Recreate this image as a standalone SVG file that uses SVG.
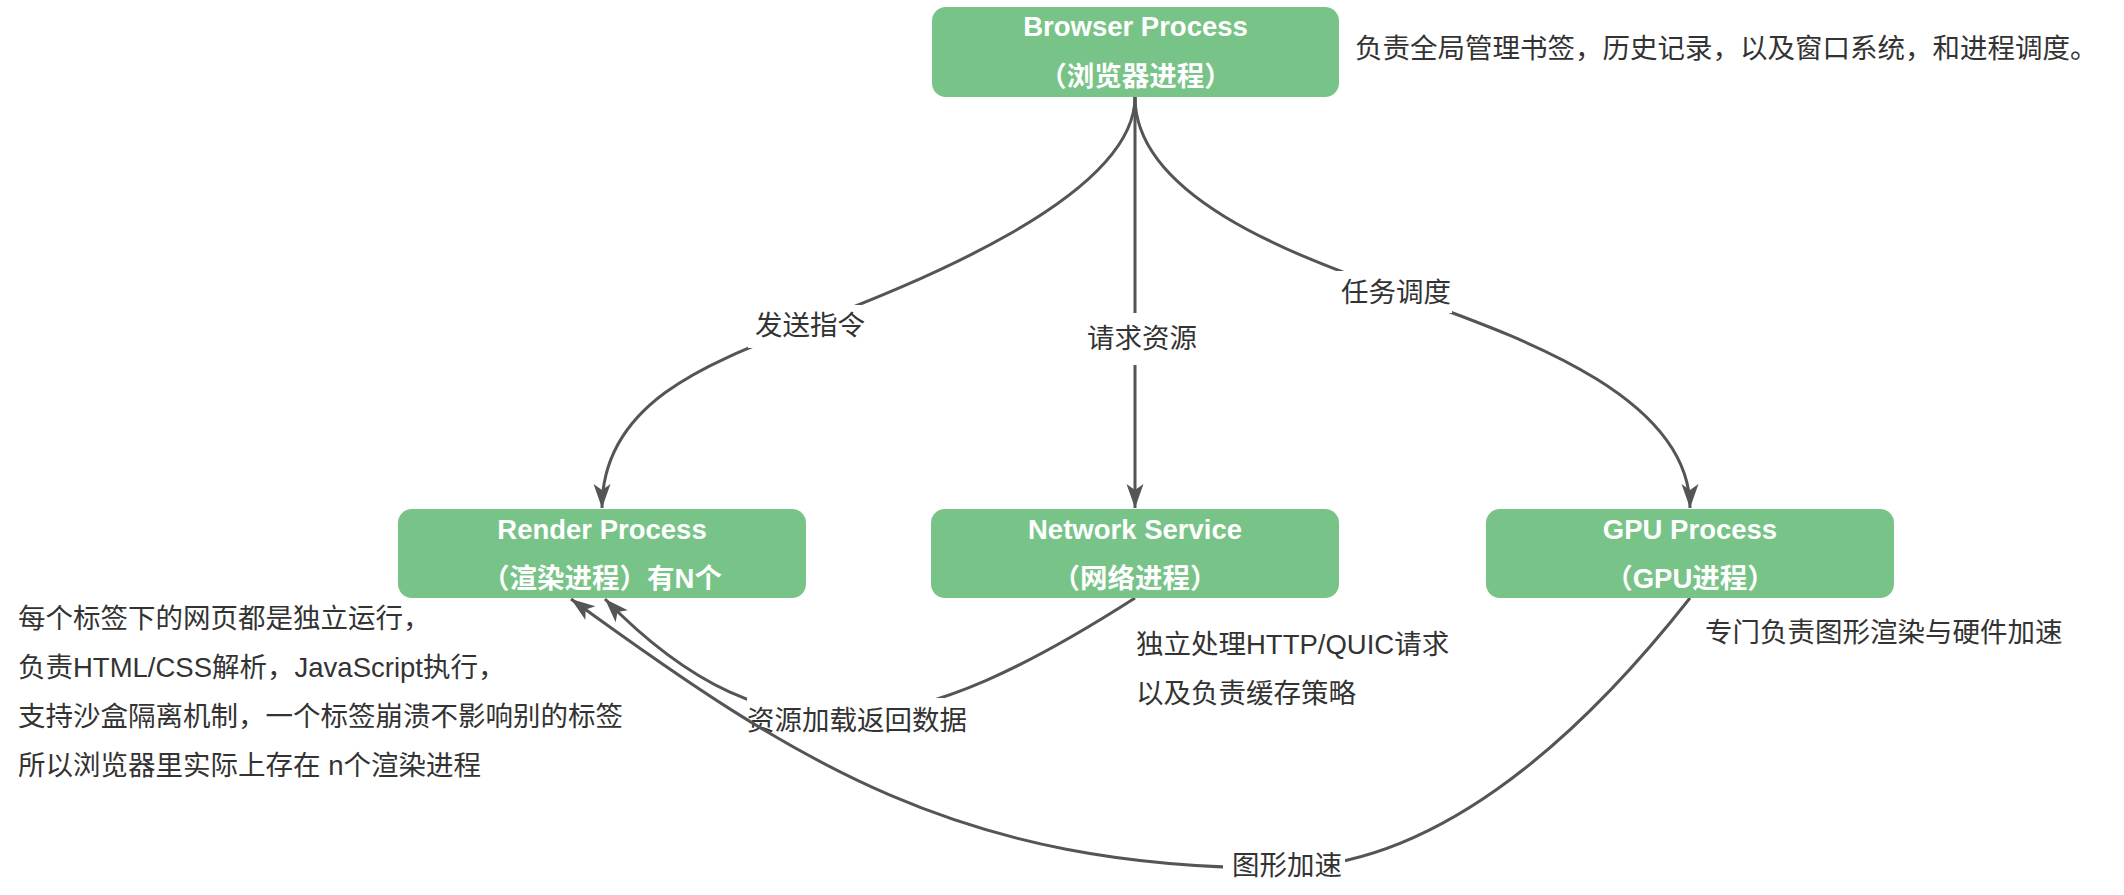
<svg xmlns="http://www.w3.org/2000/svg" width="2124" height="895" viewBox="0 0 2124 895">
  <style>
    .box { fill: #78C387; }
    .bt { font-family: "Liberation Sans", "Noto Sans CJK SC", sans-serif; font-size: 27.5px; font-weight: bold; fill: #ffffff; text-anchor: middle; }
    .t { font-family: "Liberation Sans", "Noto Sans CJK SC", sans-serif; font-size: 27.5px; fill: #333333; }
    .lbl { font-family: "Liberation Sans", "Noto Sans CJK SC", sans-serif; font-size: 27.5px; fill: #333333; text-anchor: middle; }
    .edge { fill: none; stroke: #555555; stroke-width: 3; }
    .lblbg { fill: #ffffff; }
  </style>
  <defs>
    <marker id="arr" markerUnits="userSpaceOnUse" markerWidth="30" markerHeight="24" viewBox="-26 -12 30 24" refX="0" refY="0" orient="auto">
      <path d="M0,0 L-24,-8.5 L-18,0 L-24,8.5 Z" fill="#555555"/>
    </marker>
  </defs>
  <rect width="2124" height="895" fill="#ffffff"/>

  <g id="connectors">
    <g id="e-browser-render">
      <path class="edge" d="M1135,97 C1135,200 900,289 805,326 C714,361 602,400 602,508" marker-end="url(#arr)"/>
      <rect class="lblbg" x="748" y="305" width="120" height="43"/>
      <text class="lbl" x="810" y="335">发送指令</text>
    </g>
    <g id="e-browser-network">
      <path class="edge" d="M1135,97 L1135,508" marker-end="url(#arr)"/>
      <rect class="lblbg" x="1084" y="313" width="116" height="52"/>
      <text class="lbl" x="1142" y="348">请求资源</text>
    </g>
    <g id="e-browser-gpu">
      <path class="edge" d="M1135,97 C1135,200 1304,258 1396,292 C1500,331 1690,390 1690,508" marker-end="url(#arr)"/>
      <rect class="lblbg" x="1334" y="271" width="118" height="42"/>
      <text class="lbl" x="1396" y="302">任务调度</text>
    </g>
    <g id="e-network-render">
      <path class="edge" d="M1135,598 C921,735 775,774 605,599" marker-end="url(#arr)"/>
      <rect class="lblbg" x="747" y="698" width="220" height="44"/>
      <text class="lbl" x="857" y="730">资源加载返回数据</text>
    </g>
    <g id="e-gpu-render">
      <path class="edge" d="M1690,598 C1572,748 1430,868 1280,868 C960,868 798,764 571,599" marker-end="url(#arr)"/>
      <rect class="lblbg" x="1223" y="849" width="122" height="36"/>
      <text class="lbl" x="1287" y="875">图形加速</text>
    </g>
  </g>

  <g id="browser-process">
    <rect class="box" x="932" y="7" width="407" height="90" rx="14" ry="14"/>
    <text class="bt" x="1135.5" y="36">Browser Process</text>
    <text class="bt" x="1135.5" y="86">（浏览器进程）</text>
  </g>
  <g id="browser-note">
    <text class="t" x="1355" y="58">负责全局管理书签，历史记录，以及窗口系统，和进程调度。</text>
  </g>

  <g id="render-process">
    <rect class="box" x="398" y="509" width="408" height="89" rx="14" ry="14"/>
    <text class="bt" x="602" y="539">Render Process</text>
    <text class="bt" x="602" y="588">（渲染进程）有N个</text>
  </g>
  <g id="render-note">
    <text class="t" x="18" y="628">每个标签下的网页都是独立运行，</text>
    <text class="t" x="18" y="677">负责HTML/CSS解析，JavaScript执行，</text>
    <text class="t" x="18" y="726">支持沙盒隔离机制，一个标签崩溃不影响别的标签</text>
    <text class="t" x="18" y="775">所以浏览器里实际上存在 n个渲染进程</text>
  </g>

  <g id="network-service">
    <rect class="box" x="931" y="509" width="408" height="89" rx="14" ry="14"/>
    <text class="bt" x="1135" y="539">Network Service</text>
    <text class="bt" x="1135" y="588">（网络进程）</text>
  </g>
  <g id="network-note">
    <text class="t" x="1136" y="654">独立处理HTTP/QUIC请求</text>
    <text class="t" x="1136" y="703">以及负责缓存策略</text>
  </g>

  <g id="gpu-process">
    <rect class="box" x="1486" y="509" width="408" height="89" rx="14" ry="14"/>
    <text class="bt" x="1690" y="539">GPU Process</text>
    <text class="bt" x="1690" y="588">（GPU进程）</text>
  </g>
  <g id="gpu-note">
    <text class="t" x="1705" y="642">专门负责图形渲染与硬件加速</text>
  </g>
</svg>
